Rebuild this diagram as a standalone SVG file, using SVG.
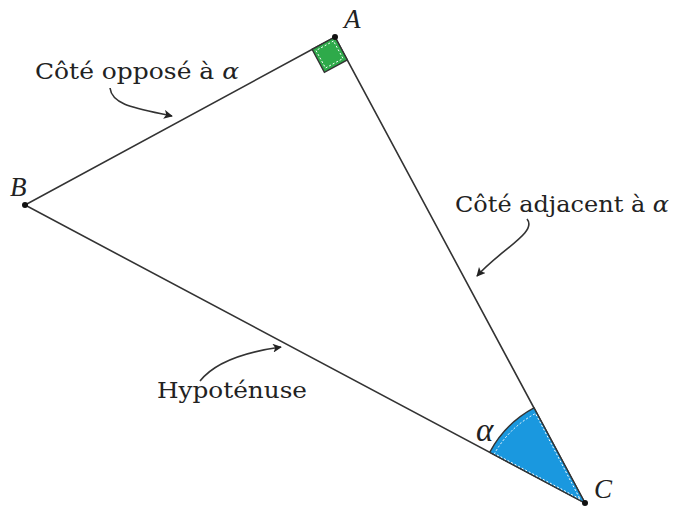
<svg xmlns="http://www.w3.org/2000/svg" width="675" height="508" viewBox="0 0 675 508">
<defs>
<style>
.side{stroke:#333;stroke-width:1.6;fill:none}
.lbl{font-family:"DejaVu Serif","Liberation Serif",serif;font-size:22px;fill:#222}
.pt{font-family:"Liberation Serif","DejaVu Serif",serif;font-size:27px;font-style:italic;fill:#222}
.arr{stroke:#333;stroke-width:1.6;fill:none;marker-end:url(#ah)}
.dot{fill:#111}
</style>
<marker id="ah" viewBox="0 0 10 10" refX="9" refY="5" markerWidth="9" markerHeight="9" markerUnits="userSpaceOnUse" orient="auto"><path d="M0,0 L10,5 L0,10 L2.5,5 Z" fill="#222"/></marker>
</defs>
<rect width="675" height="508" fill="#fff"/>
<g id="triangle">
<polygon class="side" points="335,37 25,205 585,503"/>
</g>
<g id="right-angle">
<polygon points="335,37 312.1,49.4 324.4,72.3 347.3,59.9" fill="#2eaa4a" stroke="#333" stroke-width="1.4"/>
<polygon points="333.5,41 316,50.5 325.5,68 343,58.5" fill="none" stroke="#fff" stroke-width="1" stroke-dasharray="2,2"/>
</g>
<g id="angle-alpha">
<path d="M585,503 L489.7,452.3 A108,108 0 0 1 534.0,407.9 Z" fill="#1a98df" stroke="#333" stroke-width="1.4"/>
<path d="M580,499 L494.5,453.5 A101,101 0 0 1 535.5,413.5 Z" fill="none" stroke="#fff" stroke-width="1" stroke-dasharray="2,2"/>
<text class="pt" x="476" y="441" style="font-size:33px">α</text>
</g>
<g id="A"><circle class="dot" cx="335" cy="37" r="3"/><text class="pt" x="344" y="28">A</text></g>
<g id="B"><circle class="dot" cx="25" cy="205" r="3"/><text class="pt" x="10" y="196">B</text></g>
<g id="C"><circle class="dot" cx="585" cy="503" r="3"/><text class="pt" x="594" y="498">C</text></g>
<g id="label-oppose"><text class="lbl" x="35" y="79" textLength="204" lengthAdjust="spacingAndGlyphs">Côté opposé à <tspan font-style="italic">α</tspan></text></g>
<g id="label-adjacent"><text class="lbl" x="455" y="212" textLength="214" lengthAdjust="spacingAndGlyphs">Côté adjacent à <tspan font-style="italic">α</tspan></text></g>
<g id="label-hypotenuse"><text class="lbl" x="157" y="398" textLength="150" lengthAdjust="spacingAndGlyphs">Hypoténuse</text></g>
<g id="connectors">
<path class="arr" d="M110,88 C112,105 135,108 172,116"/>
<path class="arr" d="M527,219 C538,232 500,250 477,276"/>
<path class="arr" d="M200,381 C215,362 245,352 281,347"/>
</g>
</svg>
